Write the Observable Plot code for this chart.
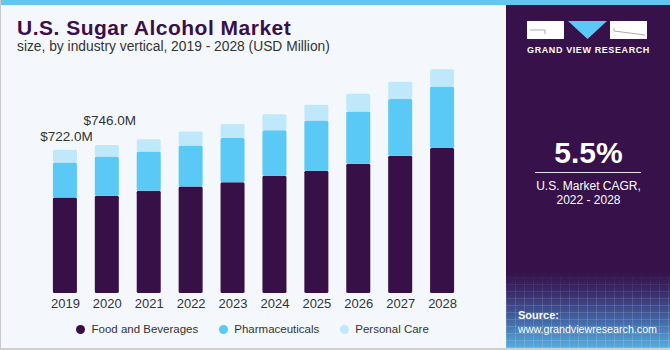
<!DOCTYPE html>
<html><head><meta charset="utf-8">
<script src="https://cdn.jsdelivr.net/npm/d3@7"></script>
<script src="https://cdn.jsdelivr.net/npm/@observablehq/plot@0.6"></script>
<style>
body{margin:0;font-family:"Liberation Sans",Arial,sans-serif;}
#wrap{position:relative;width:670px;height:350px;background:#f4f8fc;overflow:hidden;box-sizing:border-box;border-left:1px solid #c8c8c8;border-bottom:2px solid #cfcfcf;}
.topbar{position:absolute;left:0;top:0;width:670px;height:5px;background:#62c6f1;}
.title{position:absolute;left:16px;top:17px;font-size:21px;letter-spacing:0.5px;line-height:1;font-weight:bold;color:#3a1049;white-space:nowrap;}
.subtitle{position:absolute;left:16px;top:40px;font-size:13.8px;line-height:1;color:#333;white-space:nowrap;}
#chart{position:absolute;left:-1px;top:55px;}
#legend{position:absolute;left:75px;top:321px;height:16px;display:flex;gap:20.5px;font-size:11.5px;color:#333;line-height:16px;}
#legend .it{display:flex;align-items:center;white-space:nowrap;}
#legend .dot{width:9px;height:9px;border-radius:50%;margin-right:6.5px;}
.panel{position:absolute;left:505px;top:5px;width:165px;height:343px;
 background:linear-gradient(to bottom,#37114a 0%,#37114a 78%,#3a2d6c 84%,#3f5f9e 91%,#56ade0 100%);}
.grid{position:absolute;left:0;top:268px;width:165px;height:75px;
 background:repeating-linear-gradient(90deg,rgba(255,255,255,0.13) 0 1px,transparent 1px 9px),repeating-linear-gradient(0deg,rgba(255,255,255,0.13) 0 1px,transparent 1px 7px);
 -webkit-mask-image:linear-gradient(to bottom,transparent,#000 40%);mask-image:linear-gradient(to bottom,transparent,#000 40%);}
.ptext{position:absolute;left:0;width:165px;text-align:center;color:#fff;line-height:1;white-space:nowrap;}
.logo{position:absolute;left:21px;top:16px;z-index:5;}
</style></head><body>
<div id="wrap">
 <div class="topbar"></div>
 <div class="title">U.S. Sugar Alcohol Market</div>
 <div class="subtitle">size, by industry vertical, 2019 - 2028 (USD Million)</div>
 <div id="chart"></div>
 <div id="legend"></div>
 <div class="panel">
  <div class="grid"></div>
  <svg class="logo" width="122" height="18">
   <rect x="0" y="0" width="37" height="18" style="fill:#ffffff"/>
   <path d="M3 9 H18 V13" fill="none" stroke="#9a90a8" stroke-width="0.8"/>
   <polygon points="41,0 80,0 60.5,18" fill="#5bc9f5"/>
   <rect x="83" y="0" width="37" height="18" style="fill:#ffffff"/>
   <path d="M87 7 V10 L118 14" fill="none" stroke="#9a90a8" stroke-width="0.8"/>
  </svg>
  <div class="ptext" style="top:41px;font-size:9px;font-weight:bold;letter-spacing:0.6px;">GRAND VIEW RESEARCH</div>
  <div class="ptext" style="top:133px;font-size:30px;font-weight:bold;">5.5%</div>
  <div style="position:absolute;left:29px;top:167px;width:106px;height:1px;background:#e8e4ee;"></div>
  <div class="ptext" style="top:175px;font-size:12px;">U.S. Market CAGR,</div>
  <div class="ptext" style="top:189px;font-size:12px;">2022 - 2028</div>
  <div class="ptext" style="top:305px;left:12px;text-align:left;font-size:11px;font-weight:bold;">Source:</div>
  <div class="ptext" style="top:319px;left:12px;text-align:left;font-size:10.7px;">www.grandviewresearch.com</div>
 </div>
</div>
<script>
const years = ["2019","2020","2021","2022","2023","2024","2025","2026","2027","2028"];
const seriesNames = ["Food and Beverages","Pharmaceuticals","Personal Care"];
const seriesColors = ["#371048","#5bc9f5","#bfe9fa"];
const foodBeverages = [482,490,516,537,558,591,616,652,692,731];
const pharmaceuticals = [176,198,198,207,224,230,254,264,286,310];
const personalCare = [64,58,62,71,71,81,79,89,87,88];
const labelYears = ["2019","2020"];
const labelValues = [722.0,746.0];

const seriesValues = [foodBeverages, pharmaceuticals, personalCare];
const rows = [];
seriesNames.forEach((s, si) => years.forEach((y, i) => rows.push({year: y, series: s, value: seriesValues[si][i]})));
const totals = years.map((y, i) => ({year: y, total: foodBeverages[i] + pharmaceuticals[i] + personalCare[i]}));
const labels = labelYears.map((y, i) => ({year: y, total: totals.find(t => t.year === y).total, text: "$" + labelValues[i].toFixed(1) + "M"}));

const chart = Plot.plot({
  width: 500, height: 260,
  marginTop: 10, marginBottom: 22, marginLeft: 35, marginRight: 28,
  style: {background: "transparent", fontFamily: "Liberation Sans, Arial, sans-serif", fontSize: "13px", color: "#333"},
  x: {domain: years, padding: 0.427, round: false, tickSize: 0, tickPadding: 5, label: null},
  y: {domain: [0, 1150], axis: null},
  color: {domain: seriesNames, range: seriesColors},
  marks: [
    Plot.barY(rows, {x: "year", y: "value", fill: "series", order: seriesNames, rx: 1.5}),
    Plot.text(labels.slice(0,1), {x: "year", y: "total", text: "text", lineAnchor: "bottom", dy: -9, dx: 1, fontSize: 13.5, fill: "#333"}),
    Plot.text(labels.slice(1,2), {x: "year", y: "total", text: "text", lineAnchor: "bottom", dy: -21, dx: 2.5, fontSize: 13.5, fill: "#333"})
  ]
});
document.getElementById("chart").appendChild(chart);

const legend = d3.select("#legend");
seriesNames.forEach((s, i) => {
  const it = legend.append("div").attr("class", "it");
  it.append("div").attr("class", "dot").style("background", seriesColors[i]);
  it.append("span").text(s);
});
</script>
</body></html>
